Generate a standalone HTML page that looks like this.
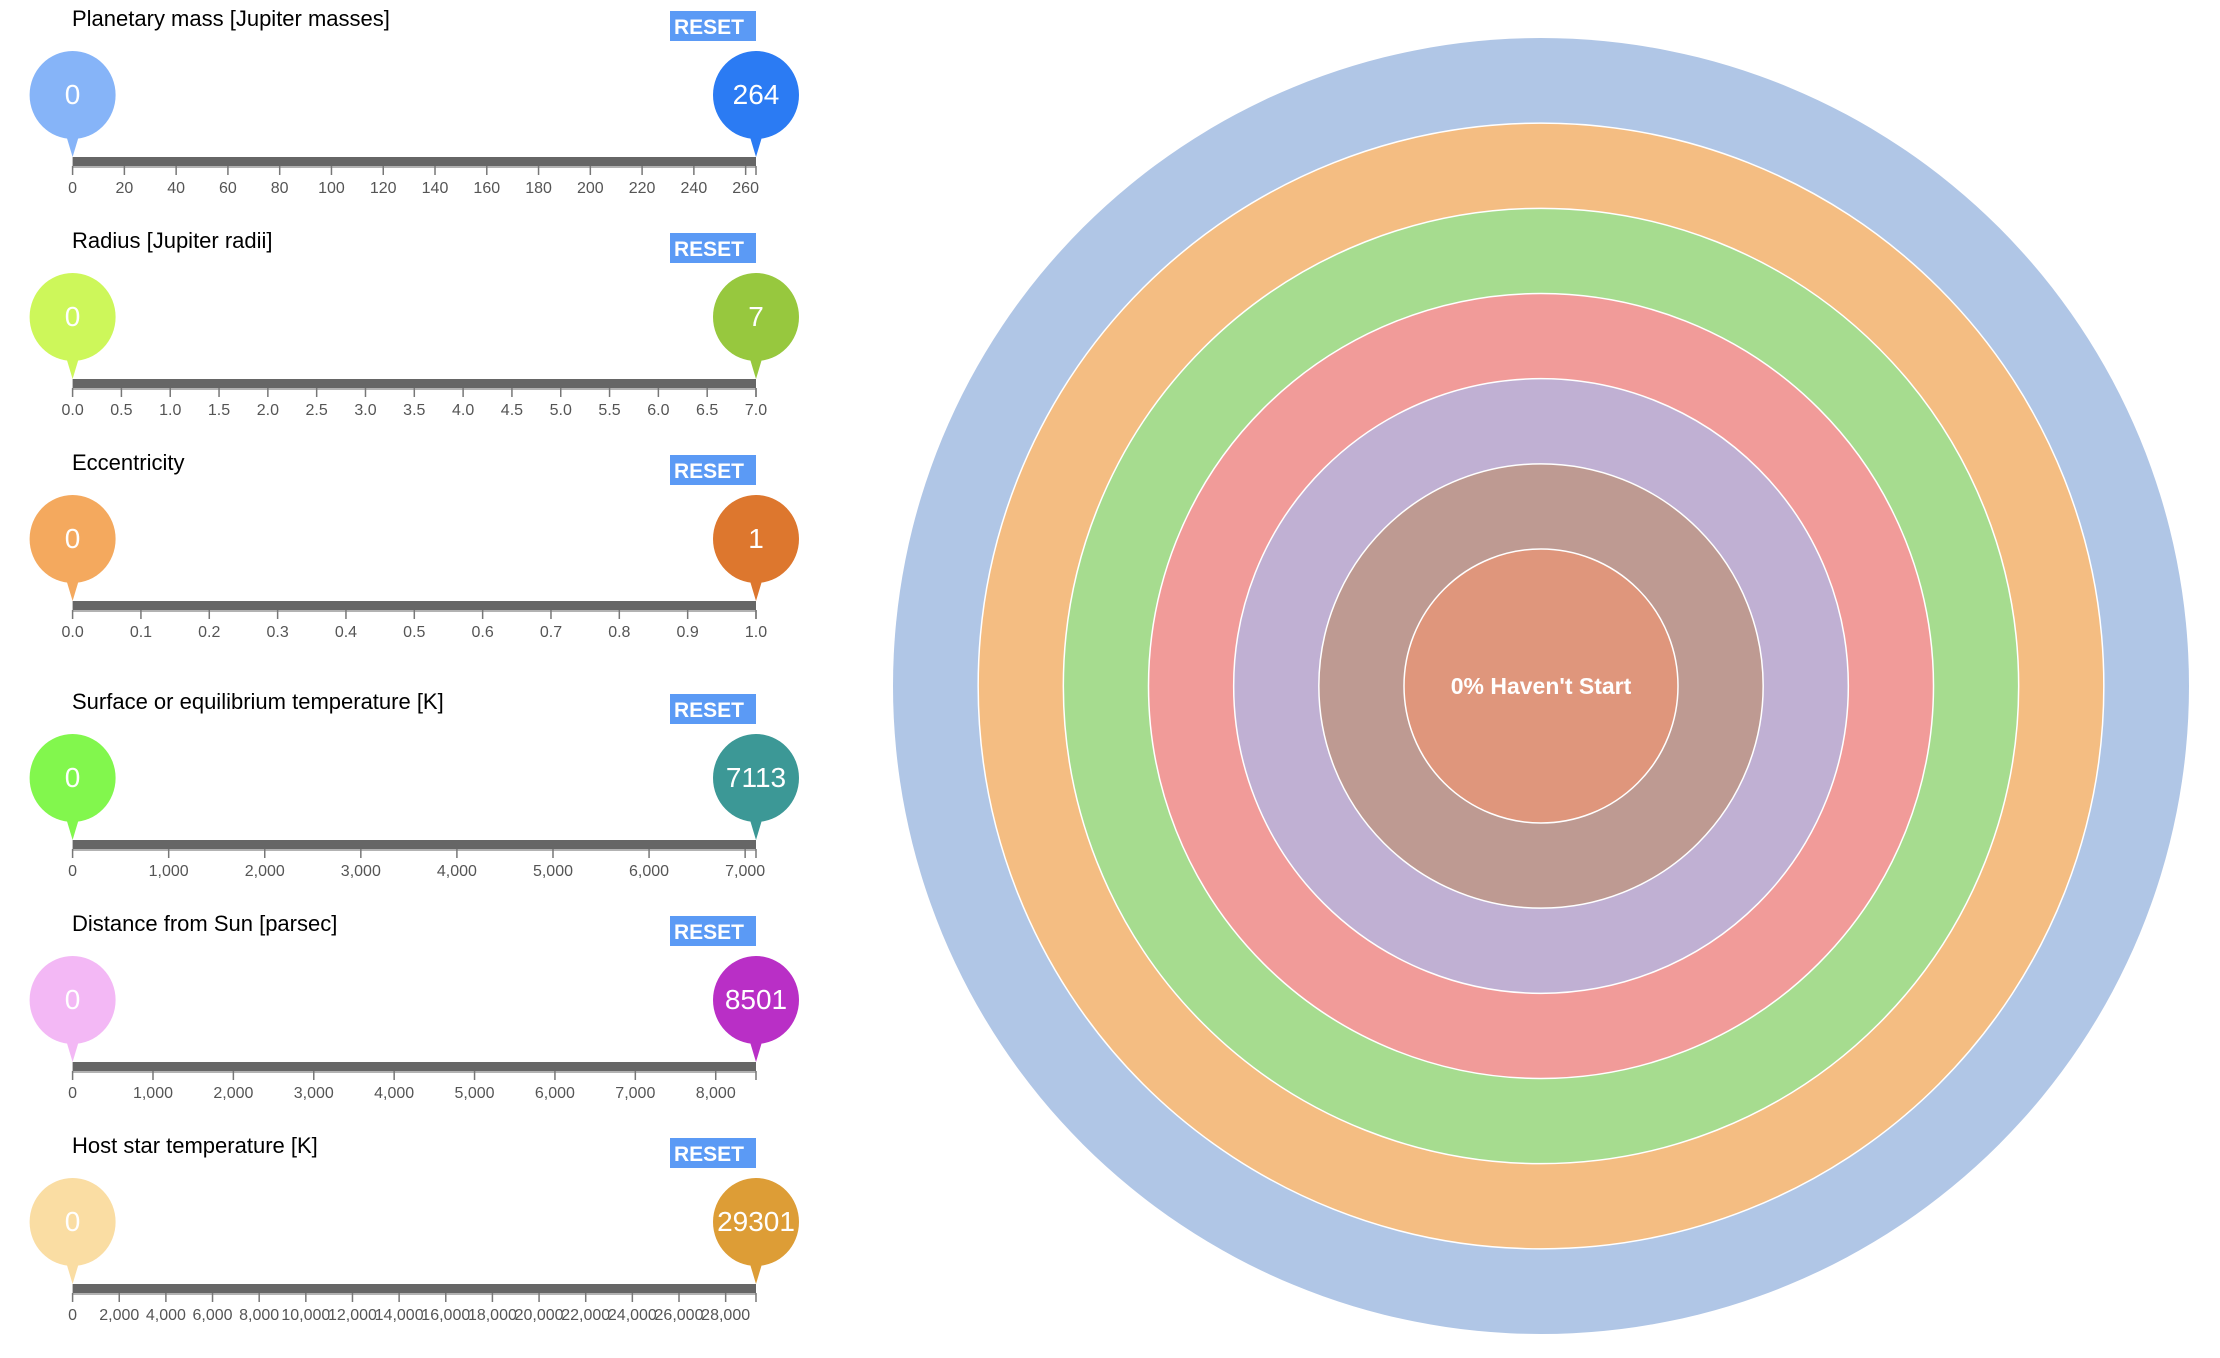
<!DOCTYPE html>
<html><head><meta charset="utf-8"><style>
html,body{margin:0;padding:0;background:#fff;}
svg{display:block;font-family:"Liberation Sans",sans-serif;}
</style></head><body>
<svg id="chart" width="2220" height="1358"></svg>
<script>
const titles=["Planetary mass [Jupiter masses]","Radius [Jupiter radii]","Eccentricity","Surface or equilibrium temperature [K]","Distance from Sun [parsec]","Host star temperature [K]"];
const maxValues=[264,7,1,7113,8501,29301];
const minValues=[0,0,0,0,0,0];
const tickSteps=[20,0.5,0.1,1000,1000,2000];
const tickDecimals=[0,1,1,0,0,0];
const tickComma=[false,false,false,true,true,true];
const leftColors=["#86b4f8","#cdf75a","#f4a95e","#82f74d","#f3b8f5","#fadda3"];
const rightColors=["#2b7bf3","#97c83e","#dd772e","#3c9896","#b92fc6","#dd9d36"];
const ringColors=["#b0c6e6","#f4bd82","#a6dc8f","#f19b99","#c0b0d3","#be9a92","#df967c"];
const ringIndex=[0,1,2,3,4,5,6];
const centerLabel="0% Haven't Start";

const NS="http://www.w3.org/2000/svg";
const svg=document.getElementById('chart');
function mk(tag,attrs,parent){const e=document.createElementNS(NS,tag);for(const k in attrs)e.setAttribute(k,attrs[k]);(parent||svg).appendChild(e);return e;}
const panelOffsets=[0,222,444,683,905,1127];
const x0=72.6,x1=756;
function fmt(v,i){let s=v.toFixed(tickDecimals[i]);if(tickComma[i])s=Number(s).toLocaleString('en-US');return s;}
function bubble(g,cx,axisY,color,label,name){
  const b=mk('g',{},g);
  
  
  mk('path',{d:`M${cx-9},${axisY-30} L${cx},${axisY} L${cx+9},${axisY-30} Z`,fill:color},b);
  mk('ellipse',{cx:cx,cy:axisY-62,rx:43,ry:44,fill:color},b);
  const t=mk('text',{x:cx,y:axisY-53,'text-anchor':'middle','font-size':28,fill:'#fff'},b);
  t.textContent=label;
}
for(let i=0;i<titles.length;i++){
  const oy=panelOffsets[i];
  const g=mk('g',{transform:`translate(0,${oy})`});
  
  
  const t=mk('text',{x:72,y:26,'font-size':22,fill:'#000'},g);t.textContent=titles[i];
  
  const rb=mk('g',{},g);
  
  
  mk('rect',{x:670,y:11,width:86,height:30,fill:'#5b9af5'},rb);
  const rt=mk('text',{x:709,y:34,'text-anchor':'middle','font-size':21,'font-weight':600,fill:'#fff'},rb);rt.textContent='RESET';
  const scale=v=>x0+(v-minValues[i])/(maxValues[i]-minValues[i])*(x1-x0);
  const axisY=157;
  const ax=mk('g',{},g);
  
  
  const bar=mk('rect',{x:x0,y:axisY,width:x1-x0,height:9,fill:'#666'},g);
  
  
  mk('line',{x1:x0,x2:x1,y1:axisY+10,y2:axisY+10,stroke:'#999','stroke-width':1.5},ax);
  const n=Math.floor(maxValues[i]/tickSteps[i]+1e-9);
  for(let k=0;k<=n;k++){
    const v=k*tickSteps[i];const x=scale(v);
    mk('line',{x1:x,x2:x,y1:axisY+9,y2:axisY+18,stroke:'#777','stroke-width':1.5},ax);
    const tl=mk('text',{x:x,y:axisY+36,'text-anchor':'middle','font-size':16,fill:'#555'},ax);
    tl.textContent=fmt(v,i);
  }
  mk('line',{x1:x1,x2:x1,y1:axisY+9,y2:axisY+18,stroke:'#777','stroke-width':1.5},ax);
  bubble(g,scale(minValues[i]),axisY,leftColors[i],String(minValues[i]),'min-handle');
  bubble(g,scale(maxValues[i]),axisY,rightColors[i],String(maxValues[i]),'max-handle');
}
const cx=1541,cy=686,outerR=648,innerR=137;
const rscale=k=>outerR-k*(outerR-innerR)/(ringIndex.length-1);
const rg=mk('g',{});


ringIndex.forEach(k=>{
  const c=mk('circle',{cx:cx,cy:cy,r:rscale(k),fill:ringColors[k],stroke:'#fff','stroke-width':k===0?0:1.5},rg);
  
  
});
const ct=mk('text',{x:cx,y:cy+8,'text-anchor':'middle','font-size':23,'font-weight':600,fill:'#fff'});
ct.textContent=centerLabel;


</script>
</body></html>
